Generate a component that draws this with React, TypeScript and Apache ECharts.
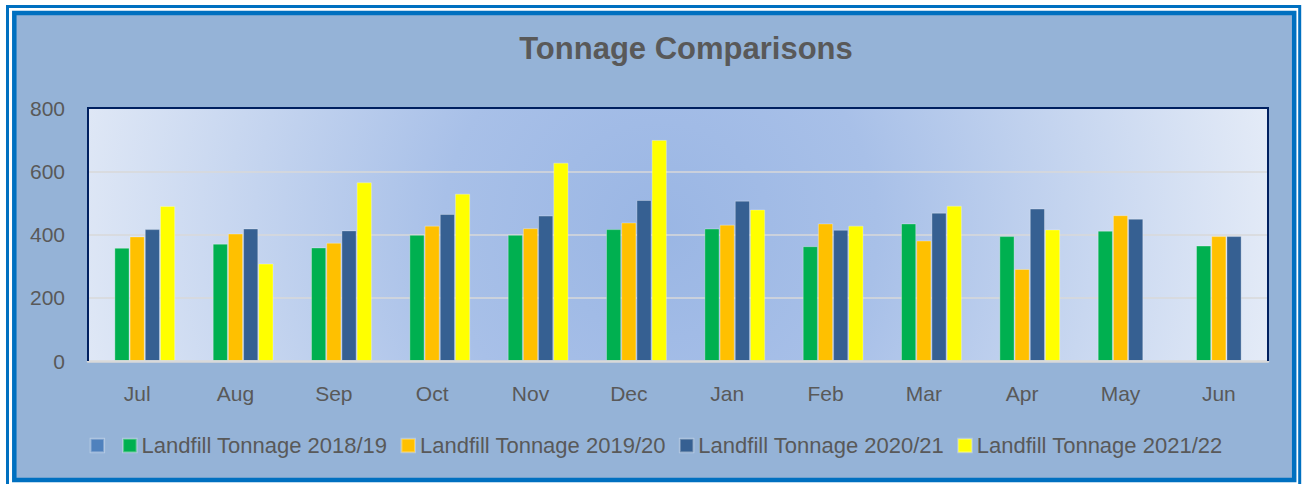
import React, { useEffect, useRef } from "react";
import * as echarts from "echarts";

const months = ["Jul", "Aug", "Sep", "Oct", "Nov", "Dec", "Jan", "Feb", "Mar", "Apr", "May", "Jun"];
const seriesNames = [
  "\u200b",
  "Landfill Tonnage 2018/19",
  "Landfill Tonnage 2019/20",
  "Landfill Tonnage 2020/21",
  "Landfill Tonnage 2021/22",
];
const seriesColors = ["#4F81BD", "#00B050", "#FFC000", "#366092", "#FFFF00"];
const emptySeries: (number | null)[] = [null, null, null, null, null, null, null, null, null, null, null, null];
const t2018: number[] = [358, 371, 359, 399, 399, 417, 419, 363, 435, 395, 412, 365];
const t2019: number[] = [394, 403, 374, 428, 420, 438, 431, 435, 381, 291, 461, 395];
const t2020: number[] = [417, 419, 413, 465, 460, 509, 507, 415, 469, 482, 450, 395];
const t2021: (number | null)[] = [490, 308, 565, 529, 627, 699, 479, 428, 491, 416, null, null];
const yTicks = { min: 0, max: 800, interval: 200 };

const FONT = "'Liberation Sans', Arial, sans-serif";

export default function App() {
  const ref = useRef<HTMLDivElement>(null);
  useEffect(() => {
    if (!ref.current) return;
    const chart = echarts.init(ref.current, null, { renderer: "svg" });
    const allData = [emptySeries, t2018, t2019, t2020, t2021];
    chart.setOption({
      animation: false,
      backgroundColor: "#FFFFFF",
      textStyle: { fontFamily: FONT },
      graphic: [
        {
          type: "rect",
          z: -100,
          silent: true,
          shape: { x: 7.5, y: 6.5, width: 1292.2, height: 490 },
          style: { fill: "none", stroke: "#0070C0", lineWidth: 3 },
        },
        {
          type: "rect",
          z: -99,
          silent: true,
          shape: { x: 14.3, y: 13, width: 1279.9, height: 467 },
          style: { fill: "#95B3D7", stroke: "#0070C0", lineWidth: 4.5 },
        },
        {
          type: "polyline",
          z: 50,
          silent: true,
          shape: { points: [[88, 361], [88, 108], [1268, 108], [1268, 361]] },
          style: { fill: "none", stroke: "#002060", lineWidth: 2 },
        },
        {
          type: "text",
          z: 10,
          x: 686,
          y: 48,
          style: {
            text: "Tonnage Comparisons",
            fill: "#595959",
            font: `bold 31px ${FONT}`,
            textAlign: "center",
            textVerticalAlign: "middle",
          },
        },
      ],
      grid: {
        left: 88,
        top: 108,
        width: 1180,
        height: 253,
        show: true,
        backgroundColor: new echarts.graphic.RadialGradient(
          660,
          230,
          620,
          [
            { offset: 0, color: "#9AB6E4" },
            { offset: 0.35, color: "#A8C0E8" },
            { offset: 1, color: "#E4EBF7" },
          ],
          true
        ),
        borderWidth: 0,
      },
      legend: {
        left: 89.6,
        top: 434.6,
        padding: 0,
        itemWidth: 13.5,
        itemHeight: 13.5,
        itemGap: 13,
        icon: "rect",
        selectedMode: false,
        data: seriesNames,
        textStyle: { color: "#595959", fontSize: 22, fontFamily: FONT },
      },
      xAxis: {
        type: "category",
        data: months,
        axisTick: { show: false },
        axisLine: { show: true, lineStyle: { color: "#D9D9D9", width: 2.5 } },
        axisLabel: { color: "#595959", fontSize: 21, fontFamily: FONT, margin: 22 },
        splitLine: { show: false },
        z: 3,
      },
      yAxis: {
        type: "value",
        min: yTicks.min,
        max: yTicks.max,
        interval: yTicks.interval,
        axisLine: { show: false },
        axisTick: { show: false },
        axisLabel: { color: "#595959", fontSize: 21, fontFamily: FONT, margin: 23 },
        splitLine: {
          show: true,
          showMaxLine: false,
          showMinLine: false,
          lineStyle: { color: "#D9D9D9", width: 1.5 },
        },
      },
      series: seriesNames.map((name, i) => ({
        name,
        type: "bar",
        data: allData[i],
        barGap: "0%",
        barCategoryGap: "22.7%",
        itemStyle: {
          color: seriesColors[i],
          borderColor: "rgba(255,255,255,0.3)",
          borderWidth: 1,
        },
      })),
    });
    return () => chart.dispose();
  }, []);
  return (
    <div
      ref={ref}
      style={{ position: "fixed", left: 0, top: 0, width: 1307, height: 484 }}
    />
  );
}
